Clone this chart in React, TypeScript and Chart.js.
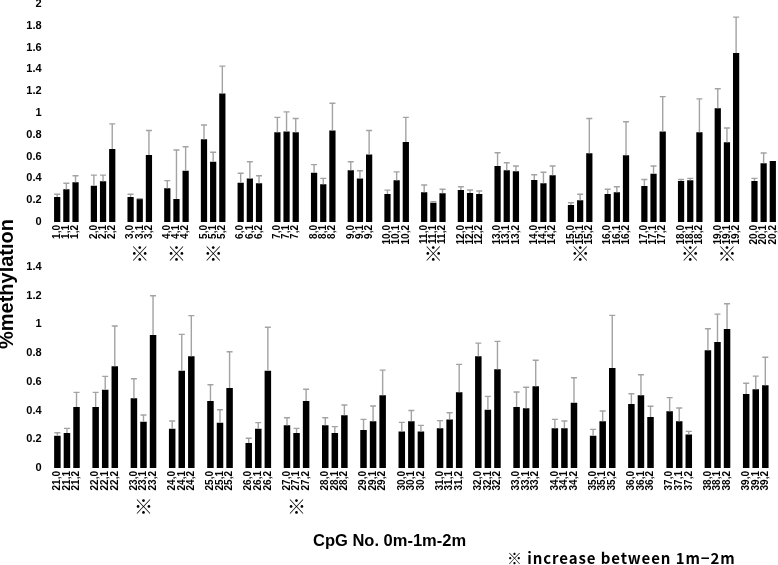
import React, { useEffect, useRef } from 'react';
import { Chart, registerables } from 'chart.js';

Chart.register(...registerables);

// ---------- DATA ----------
const topSites = [1, 2, 3, 4, 5, 6, 7, 8, 9, 10, 11, 12, 13, 14, 15, 16, 17, 18, 19, 20];
// mean %methylation at 0m, 1m, 2m for each CpG site
const topMeans = [
  [0.23, 0.3, 0.364], [0.333, 0.373, 0.67], [0.23, 0.21, 0.615], [0.31, 0.21, 0.47],
  [0.76, 0.553, 1.18], [0.36, 0.4, 0.355], [0.823, 0.83, 0.823], [0.452, 0.346, 0.84],
  [0.474, 0.4, 0.62], [0.257, 0.383, 0.734], [0.272, 0.177, 0.263], [0.294, 0.266, 0.257],
  [0.514, 0.474, 0.465], [0.385, 0.355, 0.43], [0.156, 0.2, 0.63], [0.257, 0.272, 0.612],
  [0.33, 0.443, 0.83], [0.376, 0.383, 0.823], [1.043, 0.731, 1.55], [0.376, 0.54, 0.56],
];
const topErrs = [
  [0.024, 0.055, 0.061], [0.097, 0.057, 0.23], [0.024, 0.004, 0.225], [0.07, 0.45, 0.22],
  [0.13, 0.087, 0.25], [0.087, 0.153, 0.07], [0.137, 0.18, 0.127], [0.074, 0.054, 0.25],
  [0.079, 0.07, 0.22], [0.035, 0.077, 0.226], [0.068, 0.009, 0.037], [0.03, 0.028, 0.027],
  [0.122, 0.07, 0.049], [0.049, 0.101, 0.084], [0.021, 0.054, 0.32], [0.043, 0.052, 0.308],
  [0.06, 0.071, 0.32], [0.014, 0.017, 0.307], [0.18, 0.131, 0.33], [0.024, 0.093, 0],
];
const topMarked = [3, 4, 5, 11, 15, 18, 19];

const bottomSites = [21, 22, 23, 24, 25, 26, 27, 28, 29, 30, 31, 32, 33, 34, 35, 36, 37, 38, 39];
const bottomMeans = [
  [0.225, 0.244, 0.425], [0.425, 0.545, 0.708], [0.485, 0.323, 0.926], [0.274, 0.678, 0.778],
  [0.467, 0.316, 0.557], [0.174, 0.274, 0.678], [0.297, 0.244, 0.467], [0.297, 0.244, 0.367],
  [0.265, 0.325, 0.506], [0.255, 0.325, 0.255], [0.276, 0.337, 0.527], [0.778, 0.406, 0.687],
  [0.425, 0.416, 0.569], [0.276, 0.276, 0.455], [0.225, 0.325, 0.696], [0.446, 0.506, 0.355],
  [0.395, 0.325, 0.234], [0.82, 0.877, 0.968], [0.515, 0.548, 0.576],
];
const bottomErrs = [
  [0.021, 0.032, 0.102], [0.102, 0.093, 0.281], [0.137, 0.046, 0.274], [0.053, 0.253, 0.283],
  [0.113, 0.09, 0.253], [0.033, 0.042, 0.302], [0.053, 0.032, 0.081], [0.053, 0.044, 0.072],
  [0.074, 0.107, 0.176], [0.063, 0.075, 0.042], [0.054, 0.048, 0.195], [0.092, 0.093, 0.195],
  [0.104, 0.146, 0.181], [0.063, 0.051, 0.174], [0.044, 0.072, 0.367], [0.071, 0.144, 0.075],
  [0.095, 0.093, 0.021], [0.15, 0.195, 0.176], [0.075, 0.092, 0.195],
];
const bottomMarked = [23, 27];

const timePoints = ['0', '1', '2'];
const topYMax = 2;
const bottomYMax = 1.4;
const yStep = 0.2;

const yTitle = '%methylation';
const xTitle = 'CpG No. 0m-1m-2m';
const noteText = '※ increase between 1m−2m';
const markGlyph = '※';

const FONT = '"Liberation Sans", Arial, sans-serif';

// ---------- helpers ----------
function buildSeries(sites: number[], means: number[][], errs: number[][]) {
  const labels: string[] = [];
  const values: (number | null)[] = [];
  const errors: (number | null)[] = [];
  sites.forEach((s, si) => {
    timePoints.forEach((t, ti) => {
      labels.push(`${s},${t}`);
      values.push(means[si][ti]);
      errors.push(errs[si][ti]);
    });
    if (si < sites.length - 1) {
      labels.push('');
      values.push(null);
      errors.push(null);
    }
  });
  return { labels, values, errors };
}

interface PanelProps {
  sites: number[];
  means: number[][];
  errs: number[][];
  marked: number[];
  yMax: number;
  top: number;
  height: number;
  padTop: number;
  plotBottom: number;
  padRight: number;
  markOffset: number;
}

function Panel(p: PanelProps) {
  const ref = useRef<HTMLCanvasElement | null>(null);
  useEffect(() => {
    if (!ref.current) return;
    const { labels, values, errors } = buildSeries(p.sites, p.means, p.errs);
    const markIdx = p.marked.map((s) => p.sites.indexOf(s) * 4 + 1);
    const extras = {
      id: 'extras',
      afterDatasetsDraw(chart: any) {
        const { ctx } = chart;
        const xs = chart.scales.x;
        const ys = chart.scales.y;
        ctx.save();
        ctx.strokeStyle = '#a3a3a3';
        ctx.lineWidth = 1.4;
        values.forEach((v, i) => {
          const e = errors[i];
          if (v == null || !e) return;
          const px = xs.getPixelForValue(i);
          const y0 = ys.getPixelForValue(v);
          const y1 = ys.getPixelForValue(v + e);
          ctx.beginPath();
          ctx.moveTo(px, y0);
          ctx.lineTo(px, y1);
          ctx.moveTo(px - 3, y1);
          ctx.lineTo(px + 3, y1);
          ctx.stroke();
        });
        ctx.fillStyle = '#000';
        ctx.font = 'bold 19px "Noto Sans CJK JP"';
        ctx.textAlign = 'center';
        ctx.textBaseline = 'middle';
        markIdx.forEach((i) => {
          const px = xs.getPixelForValue(i);
          const py = chart.chartArea.bottom + p.markOffset;
          ctx.fillText(markGlyph, px, py);
        });
        ctx.restore();
      },
    };
    const chart = new Chart(ref.current, {
      type: 'bar',
      data: {
        labels,
        datasets: [
          {
            data: values as any,
            backgroundColor: '#000',
            borderWidth: 0,
            categoryPercentage: 1,
            barPercentage: 0.68,
          },
        ],
      },
      options: {
        animation: false,
        responsive: false,
        maintainAspectRatio: false,
        events: [],
        layout: { padding: { top: p.padTop, right: p.padRight, left: 0, bottom: 0 } },
        plugins: { legend: { display: false }, tooltip: { enabled: false } },
        scales: {
          x: {
            grid: { display: false, drawTicks: false },
            border: { display: false },
            ticks: {
              autoSkip: false,
              minRotation: 90,
              maxRotation: 90,
              padding: 3,
              color: '#000',
              font: { family: FONT, weight: 'bold', size: 10 },
            },
            afterFit(scale: any) {
              scale.height = p.height - p.plotBottom;
              scale.paddingLeft = 0;
              scale.paddingRight = 0;
            },
          },
          y: {
            min: 0,
            max: p.yMax,
            grid: { display: false, drawTicks: false },
            border: { display: false },
            ticks: {
              stepSize: yStep,
              padding: 11,
              color: '#000',
              font: { family: FONT, weight: 'bold', size: 11 },
              callback: (v: any) => String(+Number(v).toFixed(1)),
            },
            afterFit(scale: any) {
              scale.width = 52.6;
              scale.paddingTop = 0;
              scale.paddingBottom = 0;
            },
          },
        },
      },
      plugins: [extras],
    });
    return () => chart.destroy();
  }, []);
  return (
    <canvas
      ref={ref}
      width={778}
      height={p.height}
      style={{ position: 'absolute', left: 0, top: p.top, width: 778, height: p.height }}
    />
  );
}

export default function App() {
  return (
    <div style={{ position: 'absolute', left: 0, top: 0, width: 778, height: 565, overflow: 'hidden', background: '#fff' }}>
      <Panel
        sites={topSites}
        means={topMeans}
        errs={topErrs}
        marked={topMarked}
        yMax={topYMax}
        top={0}
        height={268}
        padTop={4}
        plotBottom={222}
        padRight={0.6}
        markOffset={32}
      />
      <Panel
        sites={bottomSites}
        means={bottomMeans}
        errs={bottomErrs}
        marked={bottomMarked}
        yMax={bottomYMax}
        top={258}
        height={307}
        padTop={9}
        plotBottom={210}
        padRight={7.9}
        markOffset={39}
      />
      <div
        style={{
          position: 'absolute',
          left: 10 - 100,
          top: 284 - 15,
          width: 200,
          height: 30,
          lineHeight: '30px',
          textAlign: 'center',
          transform: 'rotate(-90deg)',
          font: `bold 20px ${FONT}`,
          color: '#000',
          whiteSpace: 'nowrap',
        }}
      >
        {yTitle}
      </div>
      <div
        style={{
          position: 'absolute',
          left: 313,
          top: 531,
          font: `bold 16.5px ${FONT}`,
          color: '#000',
          whiteSpace: 'nowrap',
        }}
      >
        {xTitle}
      </div>
      <div
        style={{
          position: 'absolute',
          left: 507,
          top: 549,
          font: 'bold 15px "Noto Sans CJK JP"',
          lineHeight: '18px',
          color: '#000',
          whiteSpace: 'nowrap',
          letterSpacing: '0.9px',
        }}
      >
        {noteText}
      </div>
    </div>
  );
}
